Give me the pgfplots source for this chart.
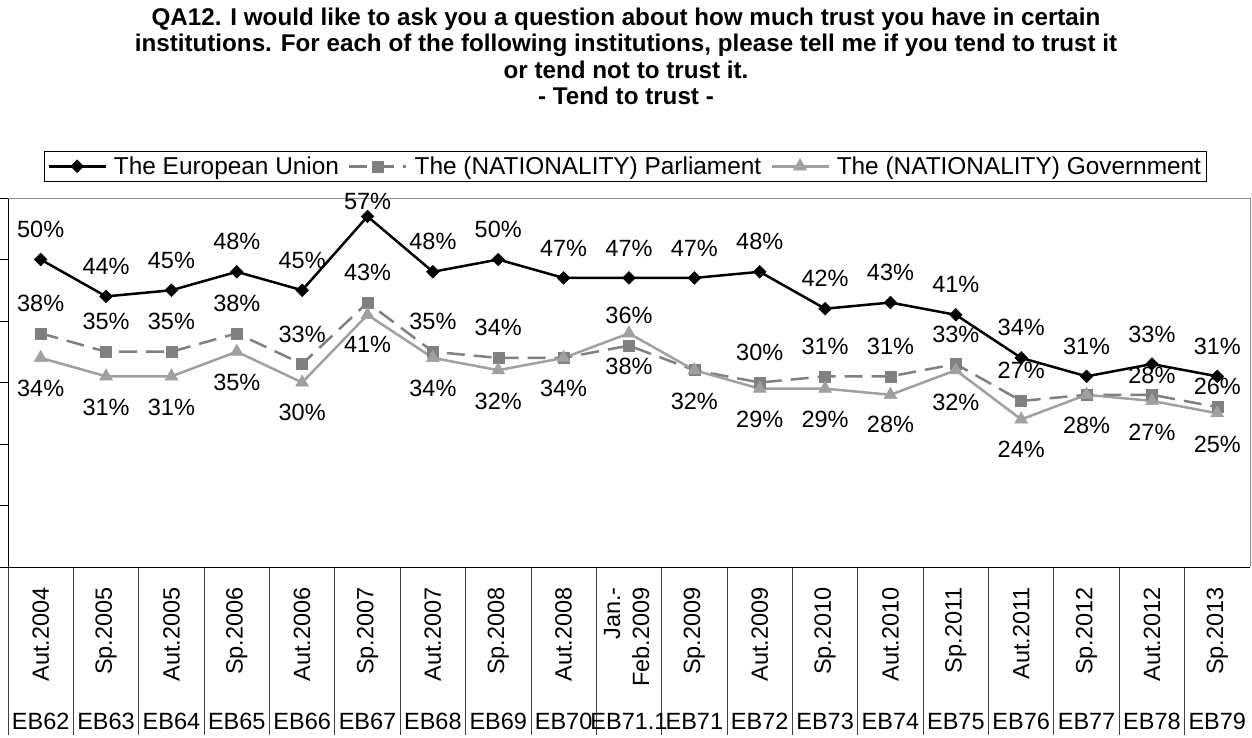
\documentclass[border=0pt]{standalone}
\usepackage{pgfplots}
\pgfplotsset{compat=1.18}
\usepackage{pgfplotstable}
\usepackage{fontspec}
\setmainfont{Liberation Sans}
\usepackage{graphicx}

\definecolor{parl}{HTML}{808080}
\definecolor{gov}{HTML}{A0A0A0}

% x: category index, y: value, dy: label offset (pt), op: label visible
\pgfplotstableread{
x y dy op
0 50 30 1
1 44 30 1
2 45 30 1
3 48 30 1
4 45 30 1
5 57 15 1
6 48 30 1
7 50 30 1
8 47 30 1
9 47 30 1
10 47 30 1
11 48 30 1
12 42 30 1
13 43 30 1
14 41 30 1
15 34 30 1
16 31 30 1
17 33 30 1
18 31 30 1
}\eu

\pgfplotstableread{
x y dy op
0 38 30 1
1 35 30 1
2 35 30 1
3 38 30 1
4 33 30 1
5 43 30 1
6 35 30 1
7 34 30 1
8 34 30 0
9 36 30 1
10 32 30 0
11 30 30 1
12 31 30 1
13 31 30 1
14 33 30 1
15 27 31 1
16 28 30 0
17 28 19 1
18 26 21 1
}\parlt

\pgfplotstableread{
x y dy op
0 34 -31 1
1 31 -31 1
2 31 -31 1
3 35 -31 1
4 30 -30 1
5 41 -30 1
6 34 -31 1
7 32 -31 1
8 34 -31 1
9 38 -33 1
10 32 -31 1
11 29 -31 1
12 29 -31 1
13 28 -30 1
14 32 -32 1
15 24 -30 1
16 28 -31 1
17 27 -31 1
18 25 -31 1
}\govt

\begin{document}
\begin{tikzpicture}
\useasboundingbox (0,0) rectangle (1252pt,738pt);
\node[anchor=north, align=center, inner sep=0pt,
      font={\fontsize{24.2}{26.5}\selectfont\bfseries}] at (626pt,730.5pt)
 {QA12. I would like to ask you a question about how much trust you have in certain\\
  institutions. For each of the following institutions, please tell me if you tend to trust it\\
  or tend not to trust it.\\
  - Tend to trust -};
\begin{axis}[
  at={(8pt,171pt)}, anchor=south west,
  scale only axis, width=1242pt, height=369pt,
  xmin=-0.5, xmax=18.5, ymin=0, ymax=60,
  axis x line*=bottom, axis y line*=left,
  clip=false,
  ytick={0,10,...,60}, yticklabels={},
  xtick={0,...,18},
  xticklabels={{\rotatebox{90}{Aut.2004}},{\rotatebox{90}{Sp.2005}},{\rotatebox{90}{Aut.2005}},{\rotatebox{90}{Sp.2006}},{\rotatebox{90}{Aut.2006}},{\rotatebox{90}{Sp.2007}},{\rotatebox{90}{Aut.2007}},{\rotatebox{90}{Sp.2008}},{\rotatebox{90}{Aut.2008}},{\rotatebox{90}{\begin{tabular}{@{}r@{}}Jan.-\\[1pt]Feb.2009\end{tabular}}},{\rotatebox{90}{Sp.2009}},{\rotatebox{90}{Aut.2009}},{\rotatebox{90}{Sp.2010}},{\rotatebox{90}{Aut.2010}},{\rotatebox{90}{Sp.2011}},{\rotatebox{90}{Aut.2011}},{\rotatebox{90}{Sp.2012}},{\rotatebox{90}{Aut.2012}},{\rotatebox{90}{Sp.2013}}},
  minor xtick={-0.5,0.5,...,17.5},
  tick align=outside,
  major tick length=8pt, minor tick length=168pt,
  major x tick style={draw=none},
  minor x tick style={draw=black!75, line width=0.8pt},
  y tick style={black, line width=0.8pt},
  axis line style={black, line width=0.8pt},
  xticklabel style={anchor=north, inner sep=0pt, yshift=-12pt, font=\fontsize{23.5}{28}\selectfont},
  extra x ticks={0,...,18},
  extra x tick labels={EB62,EB63,EB64,EB65,EB66,EB67,EB68,EB69,EB70,EB71.1,EB71,EB72,EB73,EB74,EB75,EB76,EB77,EB78,EB79},
  extra x tick style={major x tick style={draw=none}, xticklabel style={anchor=base, yshift=-142pt}},
  legend columns=3,
  legend cell align=left,
  legend style={at={(0.029,1.128)}, anchor=north west, draw=black, line width=0.8pt,
     font=\fontsize{24.4}{28}\selectfont, inner xsep=3pt, inner ysep=3.5pt,
     /tikz/every odd column/.append style={column sep=5pt},
     /tikz/every even column/.append style={column sep=7pt}},
  legend image code/.code={\draw[mark repeat=2, mark phase=2, #1] plot coordinates {(0pt,0pt) (28.5pt,0pt) (57pt,0pt)};},
  /pgf/number format/assume math mode=true,
  lab/.style={
    point meta=explicit,
    nodes near coords={\pgfmathprintnumber{\pgfplotspointmeta}\%},
    visualization depends on={\thisrow{dy} \as \dy},
    visualization depends on={\thisrow{op} \as \op},
    every node near coord/.append style={font=\fontsize{23.5}{28}\selectfont, text=black, anchor=center, inner sep=0pt, yshift=\dy, opacity=\op}},
]
\addplot[lab, black, line width=2.5pt, mark=square*, mark size=4.5pt,
  mark options={rotate=45, solid, line width=0.5pt}] table[x=x, y=y, meta=y] {\eu};
\addlegendentry{The European Union}
\addplot[lab, parl, line width=2.5pt, dash pattern=on 18pt off 9pt, mark=square*, mark size=5.5pt,
  mark options={solid, line width=0.5pt}] table[x=x, y=y, meta=y] {\parlt};
\addlegendentry{The (NATIONALITY) Parliament}
\addplot[lab, gov, line width=2.5pt, mark=triangle*, mark size=7.5pt,
  mark options={solid, line width=0.5pt}] table[x=x, y=y, meta=y] {\govt};
\addlegendentry{The (NATIONALITY) Government}
\draw[black!45, line width=0.8pt] (rel axis cs:0,1) -- (rel axis cs:1,1) -- (rel axis cs:1,0);
\end{axis}
\end{tikzpicture}
\end{document}
